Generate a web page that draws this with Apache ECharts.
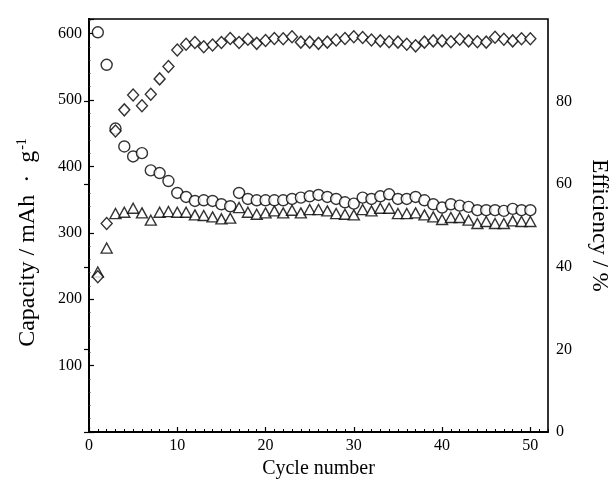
<!DOCTYPE html>
<html>
<head>
<meta charset="utf-8">
<script src="https://cdn.jsdelivr.net/npm/echarts@6/dist/echarts.min.js"></script>
<style>html,body{margin:0;padding:0;background:#fff;}#chart{width:614px;height:487px;}</style>
</head>
<body>
<div id="chart"></div>
<script>
const cycles = [1,2,3,4,5,6,7,8,9,10,11,12,13,14,15,16,17,18,19,20,21,22,23,24,25,26,27,28,29,30,31,32,33,34,35,36,37,38,39,40,41,42,43,44,45,46,47,48,49,50];
const capacityCircle = [602,553,457,430,415,420,394,390,378,360,354,348,349,348,343,340,360,351,349,349,349,349,351,353,355,357,354,351,346,344,353,351,355,358,351,351,354,349,343,338,343,341,339,334,334,334,333,336,334,334];
const capacityTriangle = [241,277,329,331,337,330,319,331,332,331,331,327,326,324,321,322,338,331,328,330,333,330,334,330,335,335,333,329,328,327,335,333,337,337,329,329,330,327,324,320,323,323,319,314,317,314,314,318,317,317];
const efficiency = [37.6,50.5,72.9,78.0,81.6,79.0,81.8,85.5,88.5,92.5,93.9,94.3,93.3,93.7,94.3,95.3,94.3,95.1,94.1,94.8,95.3,95.2,95.7,94.4,94.4,94.1,94.4,94.9,95.3,95.7,95.5,94.9,94.7,94.5,94.4,93.9,93.5,94.4,94.7,94.7,94.5,95.1,94.7,94.5,94.4,95.6,95.1,94.7,95.2,95.2];
const xTicks = [0,10,20,30,40,50];
const leftTicks = [100,200,300,400,500,600];
const rightTicks = [0,20,40,60,80];

const font = 'Liberation Serif';
const chart = echarts.init(document.getElementById('chart'));
const pair = (ys) => cycles.map((c, i) => [c, ys[i]]);
const mstyle = {color: '#fff', borderColor: '#000', borderWidth: 1.4};

chart.setOption({
  animation: false,
  backgroundColor: '#fff',
  grid: {left: 89, right: 66, top: 19, bottom: 55, containLabel: false, outerBoundsMode: 'none',
         show: true, borderColor: '#000', borderWidth: 1.6, backgroundColor: 'transparent'},
  xAxis: [
    {type: 'value', min: 0, max: 52, interval: 10, position: 'bottom',
     name: 'Cycle number', nameLocation: 'middle', nameGap: 27,
     nameTextStyle: {fontFamily: font, fontSize: 20, color: '#000'},
     axisLine: {show: true, lineStyle: {color: '#000', width: 2}},
     axisTick: {show: true, inside: true, length: 5, lineStyle: {color: '#000', width: 1.2}},
     axisLabel: {fontFamily: font, fontSize: 16, color: '#000', margin: 6, showMaxLabel: false,
       formatter: (v) => xTicks.indexOf(v) >= 0 ? String(v) : ''},
     splitLine: {show: false}},
    {type: 'value', min: 0, max: 52, interval: 1, position: 'bottom',
     axisLine: {show: false}, axisLabel: {show: false},
     axisTick: {show: true, inside: true, length: 3, lineStyle: {color: '#000', width: 1}},
     splitLine: {show: false}}
  ],
  yAxis: [
    {type: 'value', min: 0, max: 622, interval: 100, position: 'left',
     name: '{a|Capacity / mAh  ·  g}{s|-1}', nameLocation: 'middle', nameGap: 48,
     nameTextStyle: {fontFamily: font, fontSize: 24, color: '#000', padding: [0, 34, 0, 0],
       rich: {a: {fontFamily: font, fontSize: 24, color: '#000'},
              s: {fontFamily: font, fontSize: 14, color: '#000', verticalAlign: 'top', padding: [0, 0, 12, 1]}}},
     axisLine: {show: true, lineStyle: {color: '#000', width: 2}},
     axisTick: {show: true, inside: true, length: 5, lineStyle: {color: '#000', width: 1.2}},
     minorTick: {show: true, splitNumber: 5, length: 2, lineStyle: {color: '#555', width: 0.6}},
     axisLabel: {fontFamily: font, fontSize: 16, color: '#000', margin: 7, showMinLabel: false, showMaxLabel: false,
       formatter: (v) => leftTicks.indexOf(v) >= 0 ? String(v) : ''},
     splitLine: {show: false}},
    {type: 'value', min: 0, max: 100, interval: 20, position: 'right',
     name: 'Efficiency / %', nameLocation: 'middle', nameGap: 40, nameRotate: -90,
     nameTextStyle: {fontFamily: font, fontSize: 23, color: '#000'},
     axisLine: {show: true, lineStyle: {color: '#000', width: 2}},
     axisTick: {show: true, inside: true, length: 5, lineStyle: {color: '#000', width: 1.2}},
     axisLabel: {fontFamily: font, fontSize: 16, color: '#000', margin: 8, showMaxLabel: false,
       formatter: (v) => rightTicks.indexOf(v) >= 0 ? String(v) : ''},
     splitLine: {show: false}}
  ],
  series: [
    {name: 'Triangle', type: 'scatter', xAxisIndex: 0, yAxisIndex: 0, data: pair(capacityTriangle),
     symbol: 'triangle', symbolSize: [11, 10], itemStyle: mstyle},
    {name: 'Circle', type: 'scatter', xAxisIndex: 0, yAxisIndex: 0, data: pair(capacityCircle),
     symbol: 'circle', symbolSize: 11, itemStyle: mstyle},
    {name: 'Diamond', type: 'scatter', xAxisIndex: 0, yAxisIndex: 1, data: pair(efficiency),
     symbol: 'diamond', symbolSize: [11, 12], itemStyle: mstyle}
  ]
});
</script>
</body>
</html>
